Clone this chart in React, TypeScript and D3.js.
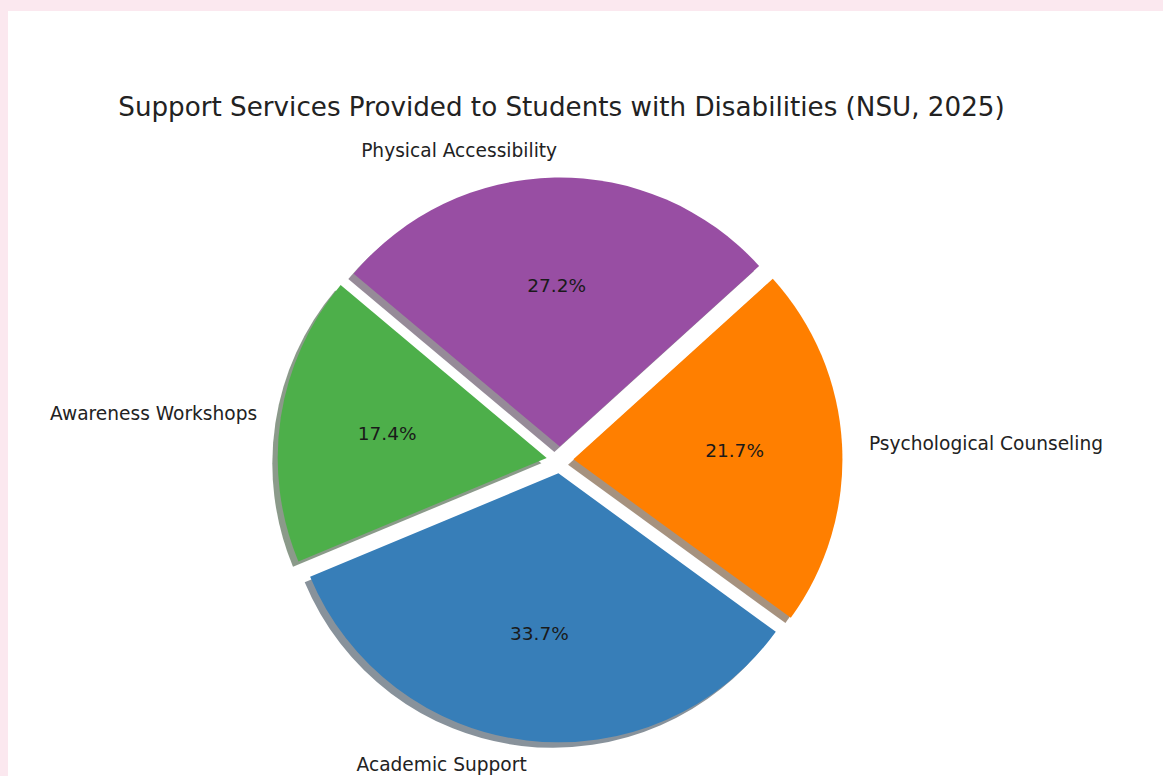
import React from "react";
import * as d3 from "d3";

const categories = ["Awareness Workshops", "Academic Support", "Psychological Counseling", "Physical Accessibility"];
const counts = [16, 31, 20, 25];
const colors = ["#4daf4a", "#377eb8", "#ff7f00", "#984ea3"];
const title = "Support Services Provided to Students with Disabilities (NSU, 2025)";

const W = 1163;
const H = 776;
const cx = 560;
const cy = 460;
const R = 269;
const explode = 0.05;
const startAngleDeg = 140; // matplotlib style, counter-clockwise from 3 o'clock

export default function App() {
  const a0 = ((90 - startAngleDeg) * Math.PI) / 180;
  const pie = d3.pie<number>().sort(null).value((d) => d).startAngle(a0).endAngle(a0 - 2 * Math.PI);
  const arcs = pie(counts);
  const total = d3.sum(counts);
  const arcGen = d3.arc<any>().innerRadius(0).outerRadius(R);
  const off = explode * R;
  const sh = 0.02 * R;

  const items = arcs.map((a, i) => {
    const mid = (a.startAngle + a.endAngle) / 2;
    const dx = Math.sin(mid);
    const dy = -Math.cos(mid);
    return { a, i, dx, dy, ox: cx + dx * off, oy: cy + dy * off };
  });

  const shadowColor = (c: string) => {
    const rgb = d3.rgb(c);
    return d3.rgb(rgb.r * 0.3, rgb.g * 0.3, rgb.b * 0.3).formatHex();
  };

  return (
    <svg width={W} height={H} style={{ position: "absolute", left: 0, top: 0 }} fontFamily="DejaVu Sans">
      <rect x={0} y={0} width={W} height={H} fill="#fbe8ef" />
      <rect x={8} y={11} width={W - 8} height={H - 11} fill="#ffffff" />
      <text x={561.5} y={107} textAnchor="middle" dominantBaseline="central" fontSize={26.2} fill="#222">
        {title}
      </text>
      {items.map(({ a, i, ox, oy }) => (
        <path
          key={"s" + i}
          d={arcGen(a) as string}
          transform={`translate(${ox - sh},${oy + sh})`}
          fill={shadowColor(colors[i])}
          fillOpacity={0.5}
        />
      ))}
      {items.map(({ a, i, ox, oy }) => (
        <path key={"w" + i} d={arcGen(a) as string} transform={`translate(${ox},${oy})`} fill={colors[i]} />
      ))}
      {items.map(({ i, dx, dy, ox, oy }) => (
        <text
          key={"p" + i}
          x={ox + dx * 0.6 * R}
          y={oy + dy * 0.6 * R}
          textAnchor="middle"
          dominantBaseline="central"
          fontSize={18.5}
          fill="#1a1a1a"
        >
          {((counts[i] / total) * 100).toFixed(1) + "%"}
        </text>
      ))}
      {items.map(({ i, dx, dy, ox, oy }) => (
        <text
          key={"l" + i}
          x={ox + dx * 1.1 * R + (dx > 0 ? 0 : 3)}
          y={Math.min(oy + dy * 1.1 * R, H - 12)}
          textAnchor={dx > 0 ? "start" : "end"}
          dominantBaseline="central"
          fontSize={18.6}
          fill="#222"
        >
          {categories[i]}
        </text>
      ))}
    </svg>
  );
}
